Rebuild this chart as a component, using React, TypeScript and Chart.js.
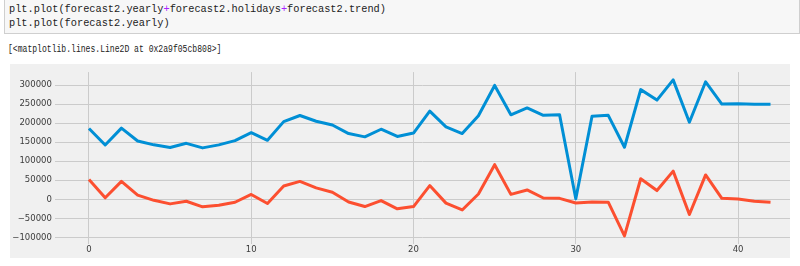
import React, { useEffect, useRef } from "react";
import { Chart, registerables } from "chart.js";

Chart.register(...registerables);

// ---- text content ----
const codeLines: string[] = [
  "plt.plot(forecast2.yearly+forecast2.holidays+forecast2.trend)",
  "plt.plot(forecast2.yearly)",
];
const outputText = "[<matplotlib.lines.Line2D at 0x2a9f05cb808>]";

// ---- data ----
// forecast2.yearly + forecast2.holidays + forecast2.trend (blue)
const totalSeries: number[] = [
  186000, 142600, 187000, 153000, 143000, 136000, 147000, 135000, 143000, 154000,
  175000, 155000, 204000, 220000, 205000, 195000, 172600, 164000, 184000, 165000,
  174000, 231500, 190000, 172600, 219500, 299000, 222000, 240000, 220500, 222000,
  1500, 218000, 220500, 136700, 288000, 260500, 313600, 202500, 308500, 250000,
  251000, 249500, 249500,
];
// forecast2.yearly (red)
const yearlySeries: number[] = [
  52000, 4000, 47000, 11000, -2600, -12000, -5000, -19700, -15400, -7700,
  12800, -11000, 35000, 47000, 30000, 18700, -7000, -19000, -3400, -25000,
  -19000, 36000, -10000, -28000, 14000, 91000, 13000, 24600, 3400, 2500,
  -9500, -7000, -7500, -96000, 54000, 23000, 74000, -40000, 64000, 2500,
  700, -5000, -7700,
];
const xTicks: number[] = [0, 10, 20, 30, 40];
const yTicks: number[] = [-100000, -50000, 0, 50000, 100000, 150000, 200000, 250000, 300000];

const tickFont = { family: "'DejaVu Sans', sans-serif", size: 8.5 };
const tickColor = "#3c3c3c";
const gridColor = "#cbcbcb";

function toPoints(values: number[]) {
  return values.map((v, i) => ({ x: i, y: v }));
}

function ChartBox() {
  const ref = useRef<HTMLCanvasElement | null>(null);
  useEffect(() => {
    if (!ref.current) return;
    const chart = new Chart(ref.current, {
      type: "line",
      data: {
        datasets: [
          {
            label: "yearly+holidays+trend",
            data: toPoints(totalSeries),
            borderColor: "#008fd5",
            borderWidth: 3,
            pointRadius: 0,
            tension: 0,
            borderJoinStyle: "round",
            order: 1,
          },
          {
            label: "yearly",
            data: toPoints(yearlySeries),
            borderColor: "#fc4f30",
            borderWidth: 3,
            pointRadius: 0,
            tension: 0,
            borderJoinStyle: "round",
            order: 0,
          },
        ],
      },
      options: {
        animation: false,
        responsive: false,
        devicePixelRatio: 1,
        layout: { padding: { top: 4, right: 0, left: 0, bottom: 0 } },
        plugins: { legend: { display: false }, tooltip: { enabled: false } },
        scales: {
          x: {
            type: "linear",
            min: -2.1,
            max: 43.2,
            afterBuildTicks: (s: any) => {
              s.ticks = xTicks.map((v) => ({ value: v }));
            },
            afterFit: (s: any) => {
              s.height = 14.5;
            },
            ticks: {
              font: tickFont,
              color: tickColor,
              padding: 1,
              maxRotation: 0,
              autoSkip: false,
              callback: (v: any) => String(v),
            },
            grid: { color: gridColor, lineWidth: 1, drawTicks: false },
            border: { display: false },
          },
          y: {
            type: "linear",
            min: -116000,
            max: 334000,
            afterBuildTicks: (s: any) => {
              s.ticks = yTicks.map((v) => ({ value: v }));
            },
            afterFit: (s: any) => {
              s.width = 44.9;
            },
            ticks: {
              font: tickFont,
              color: tickColor,
              padding: 3,
              autoSkip: false,
              callback: (v: any) => (Number(v) < 0 ? "\u2212" + Math.abs(Number(v)) : String(v)),
            },
            grid: { color: gridColor, lineWidth: 1, drawTicks: false },
            border: { display: false },
          },
        },
      },
    } as any);
    return () => chart.destroy();
  }, []);
  return <canvas ref={ref} width={780} height={194} style={{ display: "block", width: 780, height: 194 }} />;
}

function CodeLine({ text, top }: { text: string; top: number }) {
  const parts = text.split("+");
  return (
    <div
      style={{
        position: "absolute",
        left: 4,
        top,
        height: 14,
        lineHeight: "14px",
        fontFamily: "'Liberation Mono', monospace",
        fontSize: 10.3,
        color: "#222",
        whiteSpace: "pre",
      }}
    >
      {parts.map((p, i) => (
        <React.Fragment key={i}>
          {p}
          {i < parts.length - 1 ? <span style={{ color: "#aa22ff" }}>+</span> : null}
        </React.Fragment>
      ))}
    </div>
  );
}

export default function App() {
  return (
    <div
      style={{
        position: "absolute",
        left: 0,
        top: 0,
        width: 800,
        height: 266,
        background: "#ffffff",
        overflow: "hidden",
      }}
    >
      <div
        style={{
          position: "absolute",
          left: 4,
          top: -1,
          width: 796,
          height: 35,
          background: "#f7f7f7",
          border: "1px solid #cfcfcf",
          boxSizing: "border-box",
        }}
      >
        <CodeLine text={codeLines[0]} top={1.5} />
        <CodeLine text={codeLines[1]} top={15.5} />
      </div>
      <div
        style={{
          position: "absolute",
          left: 8,
          top: 41.5,
          height: 14,
          lineHeight: "14px",
          fontFamily: "'Liberation Mono', monospace",
          fontSize: 10.3,
          color: "#222",
          whiteSpace: "pre",
          transform: "scaleX(0.785)",
          transformOrigin: "left center",
        }}
      >
        {outputText}
      </div>
      <div
        style={{
          position: "absolute",
          left: 10,
          top: 64,
          width: 780,
          height: 194,
          background: "#f0f0f0",
        }}
      >
        <ChartBox />
      </div>
    </div>
  );
}
